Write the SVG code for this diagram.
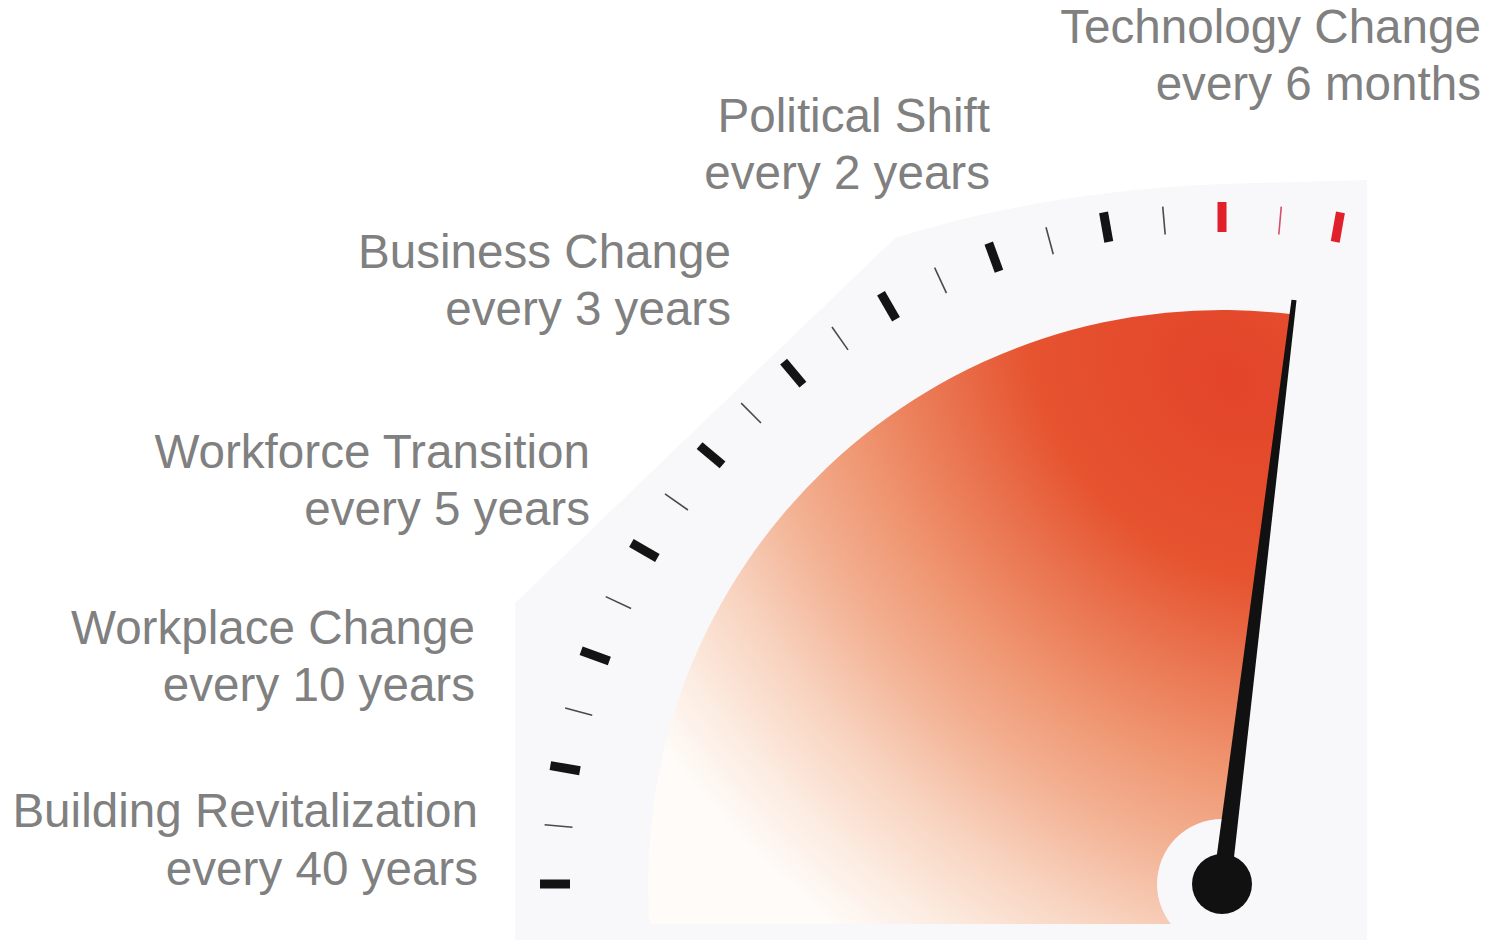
<svg xmlns="http://www.w3.org/2000/svg" width="1493" height="940" viewBox="0 0 1493 940">
  <defs>
    <style>
      .lbl { font-family: "Liberation Sans", Arial, sans-serif; font-size: 47.6px; fill: #808080; text-anchor: end; }
      .tb { fill: #141414; }
      .tt { stroke: #4a4a4a; stroke-width: 1.6; }
      .rb { fill: #e0202a; }
      .rt { stroke: #d35068; stroke-width: 1.6; }
    </style>
    <radialGradient id="heat" gradientUnits="userSpaceOnUse" cx="0" cy="0" r="1" gradientTransform="translate(1230,380) rotate(45) scale(860,670)">
      <stop offset="0" stop-color="#e3442a"/>
      <stop offset="0.26" stop-color="#e6532f"/>
      <stop offset="0.39" stop-color="#ea7450"/>
      <stop offset="0.52" stop-color="#ef9570"/>
      <stop offset="0.65" stop-color="#f3b294"/>
      <stop offset="0.78" stop-color="#f8d3bf"/>
      <stop offset="0.9" stop-color="#fcebe0"/>
      <stop offset="1" stop-color="#fefbf8"/>
    </radialGradient>
  </defs>
  <rect width="1493" height="940" fill="#ffffff"/>

  <g id="gauge">
    <path id="panel" d="M515,940 L515,603 L895,238 Q1040,192 1220,184 L1367,180 L1367,940 Z" fill="#f8f8fa"/>
    <path id="heat-sector" d="M1222,924 L1222,884 L1292.3,314.3 A574,574 0 0 0 649.4,924 Z" fill="url(#heat)"/>
    <circle id="hub-clear" cx="1222" cy="884" r="65" fill="#f8f8fa"/>
    <g id="ticks">
      <rect class="tb" x="540" y="879.5" width="30" height="9" transform="rotate(0 1222 884)"/>
      <rect class="tb" x="540" y="879.5" width="30" height="9" transform="rotate(10 1222 884)"/>
      <rect class="tb" x="540" y="879.5" width="30" height="9" transform="rotate(20 1222 884)"/>
      <rect class="tb" x="540" y="879.5" width="30" height="9" transform="rotate(30 1222 884)"/>
      <rect class="tb" x="540" y="879.5" width="30" height="9" transform="rotate(40 1222 884)"/>
      <rect class="tb" x="540" y="879.5" width="30" height="9" transform="rotate(50 1222 884)"/>
      <rect class="tb" x="540" y="879.5" width="30" height="9" transform="rotate(60 1222 884)"/>
      <rect class="tb" x="540" y="879.5" width="30" height="9" transform="rotate(70 1222 884)"/>
      <rect class="tb" x="540" y="879.5" width="30" height="9" transform="rotate(80 1222 884)"/>
      <rect class="rb" x="540" y="879.5" width="30" height="9" transform="rotate(90 1222 884)"/>
      <rect class="rb" x="540" y="879.5" width="30" height="9" transform="rotate(100 1222 884)"/>
      <line class="tt" x1="542" y1="884" x2="570" y2="884" transform="rotate(5 1222 884)"/>
      <line class="tt" x1="542" y1="884" x2="570" y2="884" transform="rotate(15 1222 884)"/>
      <line class="tt" x1="542" y1="884" x2="570" y2="884" transform="rotate(25 1222 884)"/>
      <line class="tt" x1="542" y1="884" x2="570" y2="884" transform="rotate(35 1222 884)"/>
      <line class="tt" x1="542" y1="884" x2="570" y2="884" transform="rotate(45 1222 884)"/>
      <line class="tt" x1="542" y1="884" x2="570" y2="884" transform="rotate(55 1222 884)"/>
      <line class="tt" x1="542" y1="884" x2="570" y2="884" transform="rotate(65 1222 884)"/>
      <line class="tt" x1="542" y1="884" x2="570" y2="884" transform="rotate(75 1222 884)"/>
      <line class="tt" x1="542" y1="884" x2="570" y2="884" transform="rotate(85 1222 884)"/>
      <line class="rt" x1="542" y1="884" x2="570" y2="884" transform="rotate(95 1222 884)"/>
    </g>
    <g id="needle">
      <polygon points="1213.1,882.9 1291.5,299.7 1296.5,300.3 1230.9,885.1" fill="#111111"/>
      <circle cx="1222" cy="884" r="30" fill="#111111"/>
    </g>
  </g>

  <g id="connectors"></g>

  <g id="label-technology">
    <text class="lbl" x="1481" y="43">Technology Change</text>
    <text class="lbl" x="1481" y="100">every 6 months</text>
  </g>
  <g id="label-political">
    <text class="lbl" x="990" y="132">Political Shift</text>
    <text class="lbl" x="990" y="189">every 2 years</text>
  </g>
  <g id="label-business">
    <text class="lbl" x="731" y="268">Business Change</text>
    <text class="lbl" x="731" y="325">every 3 years</text>
  </g>
  <g id="label-workforce">
    <text class="lbl" x="590" y="468">Workforce Transition</text>
    <text class="lbl" x="590" y="525">every 5 years</text>
  </g>
  <g id="label-workplace">
    <text class="lbl" x="475" y="644">Workplace Change</text>
    <text class="lbl" x="475" y="701">every 10 years</text>
  </g>
  <g id="label-building">
    <text class="lbl" x="478" y="827">Building Revitalization</text>
    <text class="lbl" x="478" y="885">every 40 years</text>
  </g>
</svg>
